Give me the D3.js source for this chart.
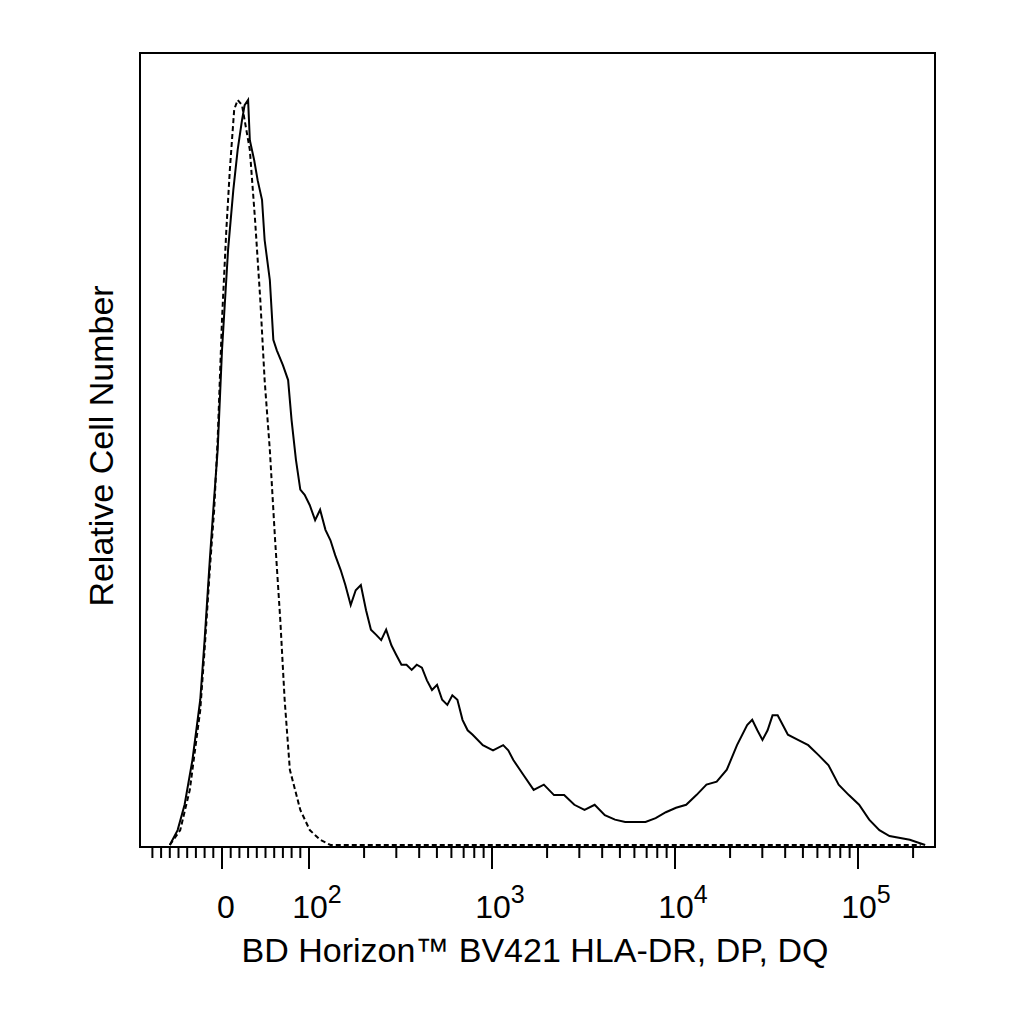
<!DOCTYPE html>
<html><head><meta charset="utf-8">
<script src="https://cdn.jsdelivr.net/npm/d3@7"></script>
<style>body{margin:0;background:#fff}</style>
</head><body>
<script>
// fluorescence values and relative counts (peak = 100)
var solidX = [-60,-51,-43,-34,-25,-20,-14,-10,-5,0,7,13,18,23,26,30,32,37,41,46,49,55,59,63,70,76,80,85,90,95,
  101,108,115,123,131,139,149,158,169,180,192,205,218,233,248,264,282,300,320,341,364,388,414,441,470,501,534,570,607,647,690,736,784,891,
  1013,1151,1227,1308,1486,1689,1920,2182,2479,2818,3203,3639,4136,4700,5342,6900,7838,8913,10130,11510,13090,14860,16900,19190,21820,24790,26420,
  28180,30060,32060,34120,36390,38820,41400,47000,53460,60690,69020,78380,89130,101400,115100,130900,148600,191900,232800];
var solidY = [0,2,5.4,11.4,19.5,27.5,38.3,45,53,66.4,79.9,87.9,93.3,97.3,99.3,100,94.6,91.9,89.2,86.6,81.2,75.8,67.8,66.4,64.4,62.4,57,51.7,47.7,47,
  45.6,43.6,45,42.3,40.9,38.9,36.9,34.9,32.2,34.2,34.9,31.5,28.9,28.2,27.5,28.9,26.8,25.5,24.2,24.2,23.5,24.2,23.8,22.1,20.8,21.5,19.5,18.8,20.1,19.5,16.8,15.4,14.8,13.4,
  12.7,13.4,12.7,11.4,9.4,7.4,8.1,6.7,6.7,5.4,4.7,5.4,4,3.4,3.1,3.1,3.6,4.4,5,5.4,6.7,8.1,8.5,10.1,13.4,16.1,16.8,
  15.4,14.1,15.4,17.4,17.4,16.1,14.8,14.1,13.4,12.1,10.7,8.1,6.7,5.4,3.4,2,1.2,0.7,0];
var dashX = [-60,-48,-37,-25,-20,-14,-9,-5,0,5,9,14,18,23,26,32,38,44,49,55,61,67,72,78,84,90,101,115,131,220000];
var dashY = [0,2,7.4,18.1,26.2,37,45,54.4,70.5,82.6,90.6,98.7,100,99.3,97.3,93.3,83.9,73.2,62.4,53,41,30.2,19.5,10.1,7.4,4.7,2,0.7,0,0];
var majorTicks = [0,100,1000,10000,100000];
var majorLabels = [["0",""],["10","2"],["10","3"],["10","4"],["10","5"]];

var L=140,R=935,T=53,B=847;
var zero=222, lin=0.87, dec=183;
var logPart = d3.scaleLog().domain([100,1e5]).range([zero+100*lin, zero+100*lin+3*dec]);
function xs(v){ return v>=100 ? logPart(v) : zero + v*lin; }
var y = d3.scaleLinear().domain([0,106.3]).range([B-2,T]);
var font = 'Liberation Sans, Arial, sans-serif';

var svg = d3.select('body').append('svg').attr('width',1024).attr('height',1024);
svg.append('rect').attr('x',L).attr('y',T).attr('width',R-L).attr('height',B-T)
  .attr('fill','none').attr('stroke','#000').attr('stroke-width',2);

var minor=[];
for(var v=-80;v<=-10;v+=10) minor.push(v);
for(var v=10;v<100;v+=10) minor.push(v);
[100,1000,10000,100000].forEach(function(d){ for(var k=2;k<=9;k++) if(d*k<=230000) minor.push(d*k); });
svg.selectAll('line.minor').data(minor).enter().append('line')
  .attr('x1',xs).attr('x2',xs).attr('y1',B).attr('y2',B+11)
  .attr('stroke','#000').attr('stroke-width',2);
svg.selectAll('line.major').data(majorTicks).enter().append('line')
  .attr('x1',xs).attr('x2',xs).attr('y1',B).attr('y2',B+22)
  .attr('stroke','#000').attr('stroke-width',2);

var lab = svg.selectAll('text.tick').data(majorTicks).enter().append('text')
  .attr('x',function(d){return xs(d)+(d===0?4:8);}).attr('y',918)
  .attr('text-anchor','middle').attr('font-family',font).attr('font-size',32);
lab.append('tspan').text(function(d,i){return majorLabels[i][0];});
lab.append('tspan').attr('dy',-15).attr('font-size',25).text(function(d,i){return majorLabels[i][1];});

var line = d3.line().x(function(d){return xs(d[0]);}).y(function(d){return y(d[1]);});
svg.append('path').datum(d3.zip(solidX,solidY)).attr('d',line)
  .attr('fill','none').attr('stroke','#000').attr('stroke-width',2);
svg.append('path').datum(d3.zip(dashX,dashY)).attr('d',line)
  .attr('fill','none').attr('stroke','#000').attr('stroke-width',2).attr('stroke-dasharray','5,3');

svg.append('text').attr('x',535).attr('y',962).attr('text-anchor','middle')
  .attr('font-family',font).attr('font-size',34)
  .text('BD Horizon™ BV421 HLA-DR, DP, DQ');
svg.append('text').attr('transform','translate(113,446) rotate(-90)').attr('text-anchor','middle')
  .attr('font-family',font).attr('font-size',34)
  .text('Relative Cell Number');
</script>
</body></html>
